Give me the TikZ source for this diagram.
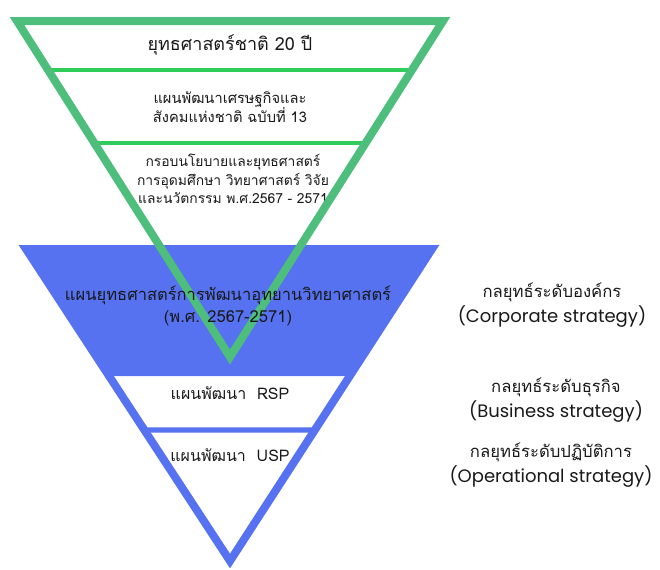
\documentclass[tikz,border=0pt]{standalone}
\usepackage{fontspec}
\setmainfont[Script=Thai]{Loma}
\newfontfamily\latinfont{Poppins}
\usetikzlibrary{positioning,calc}
\definecolor{gline}{RGB}{78,190,124}
\definecolor{gbar}{RGB}{48,204,92}
\definecolor{bfill}{RGB}{86,114,240}

\begin{document}
\begin{tikzpicture}[x=0.75pt,y=-0.75pt,line join=miter]
  \tikzstyle{every node}=[align=center,inner sep=0pt,text=black!90]
  \tikzstyle{big text}=[font=\fontsize{13.5}{16}\selectfont]
  \tikzstyle{level text}=[font=\fontsize{11}{14.2}\selectfont]
  \tikzstyle{side text}=[font=\fontsize{12.5}{18.8}\selectfont]
  \useasboundingbox (0,0) rectangle (660,569);

  % corners of the two triangles
  \coordinate (gl) at (17,21);
  \coordinate (gr) at (443,21);
  \coordinate (ga) at (230,357);
  \coordinate (bl) at (26,249);
  \coordinate (br) at (432,249);
  \coordinate (ba) at (230,561);

  % blue part
  \fill[bfill] (20,245) -- (438,245)
    -- (intersection cs: first line={(br)--(ba)}, second line={(0,376)--(1,376)})
    -- (intersection cs: first line={(bl)--(ba)}, second line={(0,376)--(1,376)}) -- cycle;
  \draw[bfill,line width=6pt] (bl) -- (br) -- (ba) -- cycle;
  \draw[bfill,line width=4pt]
    (intersection cs: first line={(bl)--(ba)}, second line={(0,430)--(1,430)}) --
    (intersection cs: first line={(br)--(ba)}, second line={(0,430)--(1,430)});

  % green part
  \draw[gbar,line width=3pt]
    (intersection cs: first line={(gl)--(ga)}, second line={(0,70)--(1,70)}) --
    (intersection cs: first line={(gr)--(ga)}, second line={(0,70)--(1,70)});
  \draw[gbar,line width=3pt]
    (intersection cs: first line={(gl)--(ga)}, second line={(0,143)--(1,143)}) --
    (intersection cs: first line={(gr)--(ga)}, second line={(0,143)--(1,143)});
  \node[level text,font=\fontsize{10.4}{13.9}\selectfont] (framework) at (233,179)
    {กรอบนโยบายและยุทธศาสตร์\\การอุดมศึกษา วิทยาศาสตร์ วิจัย\\และนวัตกรรม พ.ศ.2567 - 2571};
  \draw[gline,line width=6pt] (gl) -- (gr) -- (ga) -- cycle;

  % texts
  \node[big text] (national) at (230,45) {ยุทธศาสตร์ชาติ 20 ปี};
  \node[level text] (plan13) at (230,107) {แผนพัฒนาเศรษฐกิจและ\\สังคมแห่งชาติ ฉบับที่ 13};
  \node[level text,font=\fontsize{12.4}{16.5}\selectfont] (parkplan) at (228,306)
    {แผนยุทธศาสตร์การพัฒนาอุทยานวิทยาศาสตร์\\(พ.ศ. 2567-2571)};
  \node[level text,font=\fontsize{12}{14}\selectfont] (rsp) at (230,393) {แผนพัฒนา \ RSP};
  \node[level text,font=\fontsize{12}{14}\selectfont] (usp) at (230,455) {แผนพัฒนา \ USP};

  \node[side text] (corp) at (552,305)
    {กลยุทธ์ระดับองค์กร\\{\latinfont\fontsize{13.5}{16}\selectfont (Corporate strategy)}};
  \node[side text] (bus) at (556,400)
    {กลยุทธ์ระดับธุรกิจ\\{\latinfont\fontsize{13.5}{16}\selectfont (Business strategy)}};
  \node[side text] (ops) at (551,465)
    {กลยุทธ์ระดับปฏิบัติการ\\{\latinfont\fontsize{13.5}{16}\selectfont (Operational strategy)}};
\end{tikzpicture}
\end{document}
